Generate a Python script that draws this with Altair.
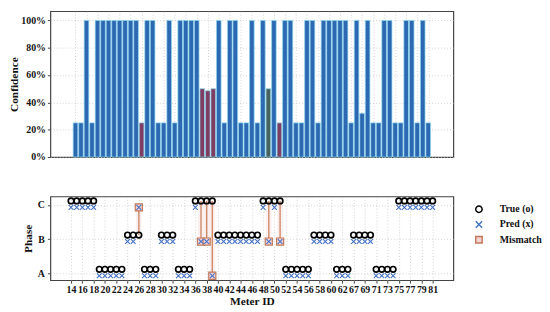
import altair as alt
import pandas as pd

# ---------------- data ----------------
meter_ids = list(range(14, 63)) + [64] + list(range(67, 82))

confidence = [25, 25, 100, 25,
              100, 100, 100, 100, 100, 100, 100, 100,
              25, 100, 100, 25, 25, 100, 25, 100, 100, 100, 100,
              50, 48.5, 50,
              100, 25, 100, 100, 25, 25, 100, 25, 100,
              50, 100, 25,
              100, 100, 25, 25, 100, 100, 25,
              100, 100, 100, 100, 100,
              25, 100, 32, 100, 25, 25, 100, 100, 25, 25, 100, 100, 25, 100, 25]

true_phase = (["C"] * 5 + ["A"] * 5 + ["B"] * 3 + ["A"] * 3 + ["B"] * 3 + ["A"] * 3
              + ["C"] * 4 + ["B"] * 8 + ["C"] * 4 + ["A"] * 5 + ["B"] * 4 + ["A"] * 3
              + ["B"] * 4 + ["A"] * 4 + ["C"] * 7)

pred_phase = (["C"] * 5 + ["A"] * 5 + ["B"] * 2 + ["C"] + ["A"] * 3 + ["B"] * 3 + ["A"] * 3
              + ["C"] + ["B", "B", "A"] + ["B"] * 8 + ["C", "B", "C", "B"] + ["A"] * 5
              + ["B"] * 4 + ["A"] * 3 + ["B"] * 4 + ["A"] * 4 + ["C"] * 7)

phase_levels = ["A", "B", "C"]
legend_kinds = ["True (o)", "Pred (x)", "Mismatch"]
bar_override = {49: "#4a625e"}

assert len(meter_ids) == len(confidence) == len(true_phase) == len(pred_phase) == 65

# ---------------- tables ----------------
rows = []
for i, m in enumerate(meter_ids):
    t = phase_levels.index(true_phase[i])
    p = phase_levels.index(pred_phase[i])
    mis = t != p
    col = bar_override.get(m, "#7e3d63") if mis else "#2d69b2"
    rows.append(dict(idx=i, meter=m, conf=confidence[i] / 100.0, barcol=col,
                     ty=t + 0.12, py=p - 0.07, mis=mis,
                     x0=i - 0.5, x1=i + 0.5))
df = pd.DataFrame(rows)
df_mis = df[df.mis].copy()
df_true = df.assign(kind="True (o)")
df_pred = df.assign(kind="Pred (x)")
df_sq = df_mis.assign(kind="Mismatch")

FONT = "Liberation Serif"
XDOM = [-3.66, 67.66]
tick_vals = list(range(0, 65, 2))
label_arr = "[" + ",".join("'%d'" % m for m in meter_ids) + "]"
XPATH = "M-1,-1L1,1M-1,1L1,-1"

grid_kw = dict(grid=True, gridDash=[1, 2], gridColor="#bdbdbd", gridWidth=0.7)
xsc = alt.Scale(domain=XDOM, nice=False, zero=False)

# ---------------- top panel ----------------
x_top = alt.X("idx:Q", scale=xsc,
              axis=alt.Axis(values=tick_vals, labels=False, ticks=False, domain=False,
                            title=None, minExtent=0, maxExtent=0, **grid_kw))
top = alt.Chart(df).mark_bar(width=4.7, stroke="#8fd8ef", strokeWidth=0.7).encode(
    x=x_top,
    y=alt.Y("conf:Q", scale=alt.Scale(domain=[0, 1.067], nice=False),
            axis=alt.Axis(values=[0, 0.2, 0.4, 0.6, 0.8, 1.0], format=".0%",
                          title="Confidence", titleFontSize=11.5, titlePadding=1,
                          labelFontSize=10, labelPadding=2, tickSize=3,
                          domain=False, **grid_kw)),
    color=alt.Color("barcol:N", scale=None),
).properties(width=409, height=148)

# ---------------- bottom panel ----------------
def xaxis():
    return alt.Axis(values=tick_vals, labelExpr=label_arr + "[datum.value]",
                    labelOverlap=False, labelBound=False, labelFontSize=10,
                    labelPadding=2, tickSize=3, domain=False, title="Meter ID",
                    titleFontSize=11.5, titlePadding=1, **grid_kw)

x_bot = alt.X("idx:Q", scale=xsc, axis=xaxis())
x0_bot = alt.X("x0:Q", scale=xsc, axis=xaxis())
yscale = alt.Scale(domain=[-0.2, 2.25], nice=False, zero=False)
y_axis = alt.Axis(values=[0, 1, 2], labelExpr="['A','B','C'][datum.value]",
                  title="Phase", titleFontSize=11.5, titlePadding=4,
                  labelFontSize=10, labelPadding=3, tickSize=3, domain=False, **grid_kw)

leg = alt.Legend(title=None, orient="none", legendX=430, legendY=196)
shape_enc = alt.Shape("kind:N", scale=alt.Scale(domain=legend_kinds,
                                                range=["circle", XPATH, "square"]), legend=leg)
stroke_enc = alt.Stroke("kind:N", scale=alt.Scale(domain=legend_kinds,
                                                  range=["#000000", "#4472c4", "#c0785a"]), legend=leg)
fill_enc = alt.Fill("kind:N", scale=alt.Scale(domain=legend_kinds,
                                              range=["transparent", "transparent", "#f6d4d4"]), legend=leg)

bands = alt.Chart(df_mis).mark_rect(color="#f7d0d0", opacity=0.35).encode(
    x=x0_bot, x2="x1:Q",
    y=alt.Y("ty:Q", scale=yscale, axis=y_axis), y2="py:Q")

lines = alt.Chart(df_mis).mark_rule(color="#cf8a68", strokeWidth=1.4).encode(
    x=x_bot, y=alt.Y("ty:Q", scale=yscale, axis=y_axis), y2="py:Q")

squares = alt.Chart(df_sq).mark_point(filled=False, size=52, strokeWidth=1.2, opacity=1).encode(
    x=x_bot, y=alt.Y("py:Q", scale=yscale, axis=y_axis),
    shape=shape_enc, stroke=stroke_enc, fill=fill_enc)

crosses = alt.Chart(df_pred).mark_point(filled=False, size=24, strokeWidth=1.1, opacity=1).encode(
    x=x_bot, y=alt.Y("py:Q", scale=yscale, axis=y_axis),
    shape=shape_enc, stroke=stroke_enc, fill=fill_enc)

circles = alt.Chart(df_true).mark_point(filled=False, size=32, strokeWidth=1.7, opacity=1).encode(
    x=x_bot, y=alt.Y("ty:Q", scale=yscale, axis=y_axis),
    shape=shape_enc, stroke=stroke_enc, fill=fill_enc)

bottom = alt.layer(bands, lines, squares, crosses, circles).properties(width=409, height=85)

chart = alt.vconcat(top, bottom, spacing=31).properties(
    padding={"left": 0, "top": 0, "right": 0, "bottom": 0}
).configure_view(
    stroke="#444444", strokeWidth=1.2
).configure_axis(
    labelFont=FONT, titleFont=FONT, labelFontWeight="bold", titleFontWeight="bold",
    labelColor="#111111", titleColor="#111111", tickColor="#444444"
).configure_legend(
    labelFont=FONT, labelFontWeight="bold", labelFontSize=10, labelColor="#111111",
    symbolSize=42, symbolStrokeWidth=1.5, rowPadding=1.5, labelOffset=16
)

chart.save("out.html", embed_options={"renderer": "svg", "actions": False})
